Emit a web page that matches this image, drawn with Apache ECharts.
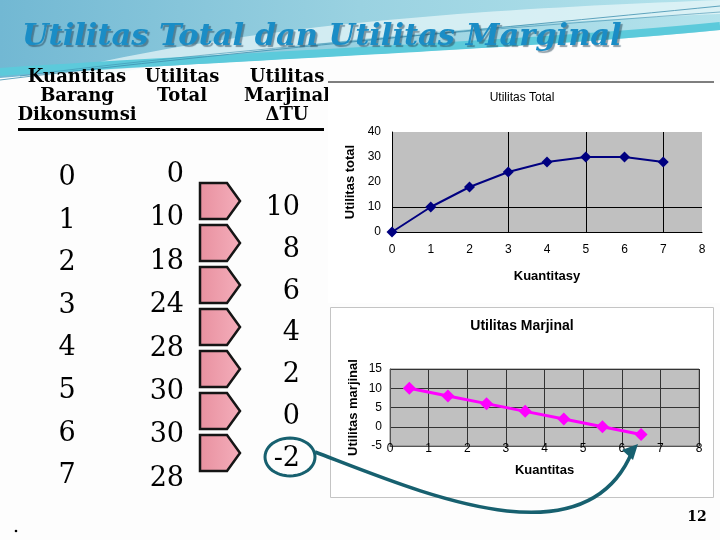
<!DOCTYPE html>
<html><head><meta charset="utf-8">
<script src="https://cdn.jsdelivr.net/npm/echarts@6/dist/echarts.min.js"></script>
<style>html,body{margin:0;padding:0;background:#fff}#c{width:720px;height:540px}</style>
</head><body><div id="c"></div>
<script>
// ---- data ----
const quantity = [0, 1, 2, 3, 4, 5, 6, 7];
const totalUtility = [0, 10, 18, 24, 28, 30, 30, 28];
const marginalX = [0.5, 1.5, 2.5, 3.5, 4.5, 5.5, 6.5];
const marginalUtility = [10, 8, 6, 4, 2, 0, -2];
const slideTitle = 'Utilitas Total dan Utilitas Marginal';
const headerRows = [
  ['Kuantitas', 'Utilitas', 'Utilitas'],
  ['Barang', 'Total', 'Marjinal'],
  ['Dikonsumsi', '', '\u0394TU']
];
const chart1Title = 'Utilitas Total';
const chart2Title = 'Utilitas Marjinal';
const pageNumber = '12';

// ---- layout helpers ----
const SERIF = '"DejaVu Serif", "Liberation Serif", serif';
const SANS = '"Liberation Sans", Arial, sans-serif';
function bez(p0, p1, p2, p3, n) {
  const pts = [];
  for (let k = 0; k <= n; k++) {
    const t = k / n, u = 1 - t;
    pts.push([u*u*u*p0[0] + 3*u*u*t*p1[0] + 3*u*t*t*p2[0] + t*t*t*p3[0],
              u*u*u*p0[1] + 3*u*u*t*p1[1] + 3*u*t*t*p2[1] + t*t*t*p3[1]]);
  }
  return pts;
}
const g = [];

// background top swoosh
const edge = bez([720,30],[520,50],[200,60],[0,78], 40);
g.push({type:'polygon', z:-10, shape:{points:[[0,0],[720,0]].concat(edge)},
  style:{fill:new echarts.graphic.LinearGradient(0,0,1,0,[{offset:0,color:'#72b8d3'},{offset:0.5,color:'#9ad2e1'},{offset:1,color:'#b4e3ec'}])}});
const wUp = bez([40,76],[260,20],[520,8],[720,0], 40);
const wLo = bez([720,14],[520,22],[300,40],[120,72], 40);
g.push({type:'polygon', z:-9, shape:{points:wUp.concat(wLo)}, style:{fill:'rgba(235,248,250,0.7)'}});
g.push({type:'bezierCurve', z:-8, shape:{x1:0,y1:72,cpx1:200,cpy1:58,cpx2:520,cpy2:46,x2:720,y2:26},
  style:{fill:null, stroke:'#5ccadb', lineWidth:8}});
g.push({type:'bezierCurve', z:-8, shape:{x1:0,y1:80,cpx1:200,cpy1:55,cpx2:480,cpy2:30,x2:720,y2:6},
  style:{fill:null, stroke:'#3e8fae', lineWidth:0.8}});
g.push({type:'bezierCurve', z:-8, shape:{x1:20,y1:76,cpx1:220,cpy1:50,cpx2:500,cpy2:28,x2:720,y2:12},
  style:{fill:null, stroke:'#3e8fae', lineWidth:0.6}});

// slide title
g.push({type:'text', z:5, style:{text:slideTitle, x:22, y:37, textAlign:'left', textVerticalAlign:'middle',
  font:'italic bold 30.5px "DejaVu Serif", serif', fill:'#1a8dc6',
  textShadowColor:'rgba(30,60,80,0.5)', textShadowOffsetX:2, textShadowOffsetY:2, textShadowBlur:1}});

// table header
const headX = [77, 182, 287];
const headY = [77, 96, 115];
headerRows.forEach((row, r) => row.forEach((t, c) => {
  if (!t) return;
  g.push({type:'text', z:1, style:{text:t, x:headX[c], y:headY[r], textAlign:'center', textVerticalAlign:'middle',
    font:'bold 18px ' + SERIF, fill:'#000'}});
}));
g.push({type:'rect', z:1, shape:{x:18, y:128, width:306, height:3}, style:{fill:'#000'}});

// white area of chart picture (covers clipped header) + its top rule
g.push({type:'rect', z:2, shape:{x:328, y:83, width:392, height:220}, style:{fill:'#fff'}});
g.push({type:'line', z:3, shape:{x1:328, y1:82, x2:714, y2:82}, style:{stroke:'#000', lineWidth:1}});

// bottom chart frame
g.push({type:'rect', z:-1, shape:{x:330.5, y:307.5, width:383, height:190}, style:{fill:'#fff', stroke:'#c4c4c4', lineWidth:1}});

// table columns
quantity.forEach((q, i) => {
  g.push({type:'text', z:1, style:{text:String(q), x:67, y:178 + 42.6 * i, textAlign:'center', textVerticalAlign:'middle',
    font:'27px ' + SERIF, fill:'#000'}});
});
totalUtility.forEach((v, i) => {
  g.push({type:'text', z:1, style:{text:String(v), x:184, y:175 + 43.4 * i, textAlign:'right', textVerticalAlign:'middle',
    font:'27px ' + SERIF, fill:'#000'}});
});
marginalUtility.forEach((v, i) => {
  const top = 183 + 42 * i;
  g.push({type:'polygon', z:1, shape:{points:[[200,top],[227,top],[240,top+18],[227,top+36],[200,top+36]]},
    style:{fill:new echarts.graphic.LinearGradient(0,0,1,0,[{offset:0,color:'#e8909f'},{offset:1,color:'#f4aebb'}]), stroke:'#151515', lineWidth:2.5}});
  g.push({type:'text', z:1, style:{text:String(v), x:300, y:208 + 41.8 * i, textAlign:'right', textVerticalAlign:'middle',
    font:'27px ' + SERIF, fill:'#000'}});
});

// chart titles
g.push({type:'text', z:5, style:{text:chart1Title, x:522, y:98, textAlign:'center', textVerticalAlign:'middle', font:'12px ' + SANS, fill:'#000'}});
g.push({type:'text', z:5, style:{text:chart2Title, x:522, y:326, textAlign:'center', textVerticalAlign:'middle', font:'bold 14px ' + SANS, fill:'#000'}});

// circle and curved arrow
g.push({type:'polygon', z:20, shape:{points:Array.from({length:49}, (_, k) => [290 + 25*Math.cos(k*Math.PI/24), 457 + 19*Math.sin(k*Math.PI/24)])},
  style:{fill:null, stroke:'#17606f', lineWidth:3}});
g.push({type:'bezierCurve', z:20, shape:{x1:315, y1:452, cpx1:420, cpy1:492, cpx2:585, cpy2:565, x2:632, y2:452},
  style:{fill:null, stroke:'#17606f', lineWidth:3.5}});
g.push({type:'polygon', z:20, shape:{points:[[638,444],[622,450],[633,460]]}, style:{fill:'#17606f'}});

// page number and dot
g.push({type:'text', z:5, style:{text:pageNumber, x:697, y:517, textAlign:'center', textVerticalAlign:'middle', font:'bold 14px ' + SERIF, fill:'#000'}});
g.push({type:'circle', z:5, shape:{cx:16, cy:531, r:1.3}, style:{fill:'#000'}});

const axisLbl = {color:'#000', fontFamily:SANS, fontSize:12};
const nameStyle = {fontWeight:'bold', fontSize:13, color:'#000', fontFamily:SANS};

const option = {
  animation:false,
  backgroundColor:'#fdfdfd',
  graphic:{elements:g},
  grid:[
    {left:392, top:132, width:310, height:100, show:true, backgroundColor:'#c0c0c0', borderWidth:0, z:3},
    {left:390, top:369, width:309, height:77, show:true, backgroundColor:'#c0c0c0', borderWidth:1, borderColor:'#7a7a7a', z:3}
  ],
  xAxis:[
    {gridIndex:0, type:'value', min:0, max:8, interval:1, z:4,
     axisLine:{show:true, onZero:false, lineStyle:{color:'#000'}}, axisTick:{show:false}, splitLine:{show:false},
     axisLabel:{...axisLbl, margin:12},
     name:'Kuantitasy', nameLocation:'middle', nameGap:38, nameTextStyle:nameStyle},
    {gridIndex:1, type:'value', min:0, max:8, interval:1, z:4,
     axisLine:{show:true, onZero:false, lineStyle:{color:'#555'}}, axisTick:{show:false},
     splitLine:{show:true, lineStyle:{color:'#333', width:1}},
     axisLabel:{...axisLbl, margin:-3},
     name:'Kuantitas', nameLocation:'middle', nameGap:18, nameTextStyle:nameStyle}
  ],
  yAxis:[
    {gridIndex:0, type:'value', min:0, max:40, interval:10, z:4,
     axisLine:{show:true, lineStyle:{color:'#000'}}, axisTick:{show:false}, splitLine:{show:false},
     axisLabel:{...axisLbl, margin:11},
     name:'Utilitas total', nameLocation:'middle', nameGap:35, nameTextStyle:nameStyle},
    {gridIndex:1, type:'value', min:-5, max:15, interval:5, z:4,
     axisLine:{show:true, lineStyle:{color:'#555'}}, axisTick:{show:false},
     splitLine:{show:true, lineStyle:{color:'#333', width:1}},
     axisLabel:{...axisLbl, margin:8},
     name:'Utilitas marjinal', nameLocation:'middle', nameGap:30, nameTextStyle:nameStyle}
  ],
  series:[
    {type:'line', xAxisIndex:0, yAxisIndex:0, z:6,
     data:quantity.map((q, i) => [q, totalUtility[i]]),
     lineStyle:{color:'#000080', width:2}, itemStyle:{color:'#000080'},
     symbol:'diamond', symbolSize:11,
     markLine:{silent:true, symbol:'none', label:{show:false}, z:5,
       lineStyle:{color:'#000', type:'solid', width:1},
       data:[{xAxis:3},{xAxis:5},{xAxis:7},{yAxis:10}]}},
    {type:'line', xAxisIndex:1, yAxisIndex:1, z:6,
     data:marginalX.map((x, i) => [x, marginalUtility[i]]),
     lineStyle:{color:'#ff00ff', width:3}, itemStyle:{color:'#ff00ff'},
     symbol:'diamond', symbolSize:13}
  ]
};
const chart = echarts.init(document.getElementById('c'), null, {renderer:'canvas'});
chart.setOption(option);
</script></body></html>
